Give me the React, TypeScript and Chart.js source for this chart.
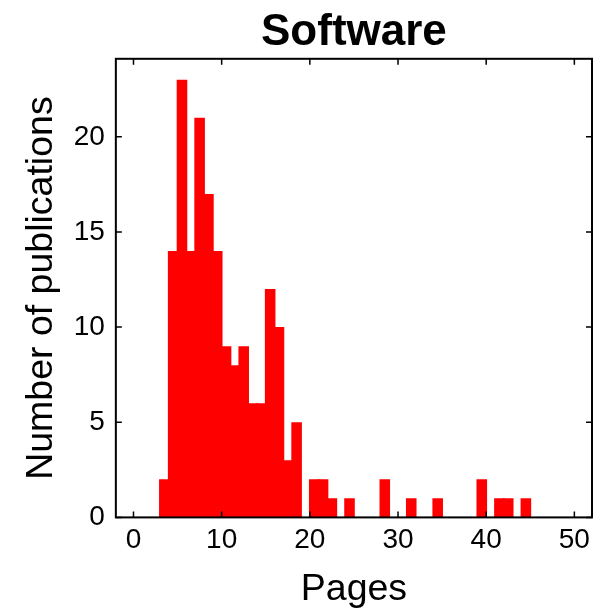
import React, { useEffect, useRef } from "react";
import { Chart, registerables } from "chart.js";

Chart.register(...registerables);

// Histogram bins (left edge of each 1-page bin) and counts
const binStarts = [3, 4, 5, 6, 7, 8, 9, 10, 11, 12, 13, 14, 15, 16, 17, 18, 20, 21, 22, 24, 28, 31, 34, 39, 41, 42, 44];
const counts = [2, 14, 23, 14, 21, 17, 14, 9, 8, 9, 6, 6, 12, 10, 3, 5, 2, 2, 1, 1, 2, 1, 1, 2, 1, 1, 1];
const binWidth = 1;

const xTicks = [0, 10, 20, 30, 40, 50];
const yTicks = [0, 5, 10, 15, 20];

const titleText = "Software";
const xLabel = "Pages";
const yLabel = "Number of publications";

const FONT = "'Liberation Sans', Arial, Helvetica, sans-serif";

const frameTicks = {
  id: "frameTicks",
  afterDraw(chart: any) {
    const { ctx, chartArea: a, scales } = chart;
    const xs = scales.x;
    const ys = scales.y;
    const L = 6;
    ctx.save();
    ctx.strokeStyle = "#000";
    ctx.lineWidth = 1.5;
    ctx.beginPath();
    xs.ticks.forEach((t: any) => {
      const p = xs.getPixelForValue(t.value);
      ctx.moveTo(p, a.bottom);
      ctx.lineTo(p, a.bottom - L);
      ctx.moveTo(p, a.top);
      ctx.lineTo(p, a.top + L);
    });
    ys.ticks.forEach((t: any) => {
      const p = ys.getPixelForValue(t.value);
      ctx.moveTo(a.left, p);
      ctx.lineTo(a.left + L, p);
      ctx.moveTo(a.right, p);
      ctx.lineTo(a.right - L, p);
    });
    ctx.stroke();
    ctx.lineWidth = 2;
    ctx.strokeRect(a.left, a.top, a.right - a.left, a.bottom - a.top);
    ctx.restore();
  },
};

export default function App() {
  const ref = useRef<HTMLCanvasElement>(null);

  useEffect(() => {
    if (!ref.current) return;
    const chart = new Chart(ref.current, {
      type: "bar",
      data: {
        datasets: [
          {
            data: binStarts.map((s, i) => ({ x: s + binWidth / 2, y: counts[i] })),
            backgroundColor: "#ff0000",
            borderWidth: 0,
            categoryPercentage: 1,
            barPercentage: 1.2,
          },
        ],
      },
      options: {
        responsive: false,
        animation: false,
        events: [],
        layout: { padding: { left: 0, right: 9, top: 0, bottom: 0 } },
        plugins: {
          legend: { display: false },
          tooltip: { enabled: false },
          title: {
            display: true,
            text: titleText,
            color: "#000",
            fullSize: false,
            font: { family: FONT, size: 44, weight: "bold" },
            padding: { top: 6, bottom: 0 },
          },
        },
        scales: {
          x: {
            type: "linear",
            min: -2,
            max: 52,
            offset: false,
            grid: { display: false, drawTicks: false },
            border: { display: false },
            afterBuildTicks: (s: any) => {
              s.ticks = xTicks.map((v) => ({ value: v }));
            },
            ticks: {
              color: "#000",
              font: { family: FONT, size: 28 },
              padding: 6,
              maxRotation: 0,
              autoSkip: false,
            },
            title: {
              display: true,
              text: xLabel,
              color: "#000",
              font: { family: FONT, size: 37.5 },
              padding: { top: 4.5, bottom: -2.5 },
            },
          },
          y: {
            type: "linear",
            min: 0,
            max: 24.1,
            grid: { display: false, drawTicks: false },
            border: { display: false },
            afterBuildTicks: (s: any) => {
              s.ticks = yTicks.map((v) => ({ value: v }));
            },
            ticks: {
              color: "#000",
              font: { family: FONT, size: 28 },
              padding: 11,
              autoSkip: false,
            },
            title: {
              display: true,
              text: yLabel,
              color: "#000",
              font: { family: FONT, size: 37.5 },
              padding: { top: 19, bottom: -1.3 },
            },
          },
        },
      },
      plugins: [frameTicks],
    });
    return () => chart.destroy();
  }, []);

  return (
    <div style={{ position: "absolute", left: 0, top: 0, width: 601, height: 610, background: "#fff" }}>
      <canvas ref={ref} width={601} height={610} style={{ display: "block" }} />
    </div>
  );
}
